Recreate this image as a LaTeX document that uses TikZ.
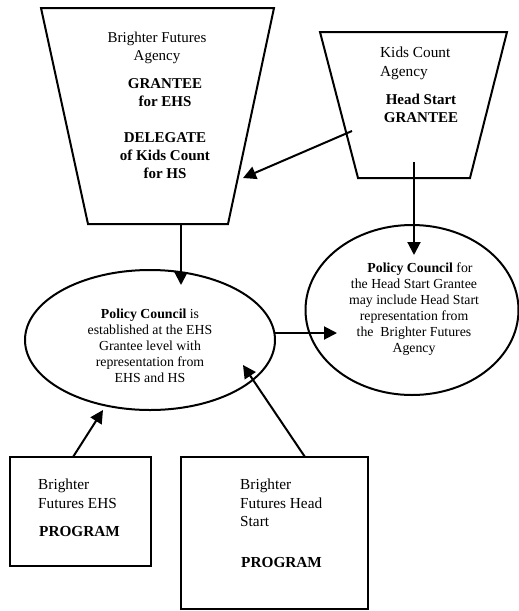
\documentclass[tikz,border=0pt]{standalone}
\usepackage{fontspec}
\setmainfont{Liberation Serif}
\usetikzlibrary{arrows.meta,shapes.geometric}
\begin{document}
\begin{tikzpicture}[x=1pt,y=-1pt,
  shape line/.style={line width=2pt,line join=miter},
  arr/.style={line width=2pt,-{Triangle[length=13pt,width=13pt]}},
  txt/.style={inner sep=0pt,align=center,font=\fontsize{15}{18}\selectfont},
  btxt/.style={inner sep=0pt,align=center,font=\bfseries\fontsize{15}{18}\selectfont},
  stxt/.style={inner sep=0pt,align=center,font=\fontsize{13.8}{16}\selectfont},
  ltxt/.style={inner sep=0pt,align=left,font=\fontsize{15.3}{18.5}\selectfont,anchor=north west},
  lbtxt/.style={inner sep=0pt,align=left,font=\bfseries\fontsize{15.3}{18.5}\selectfont,anchor=north west}]
\useasboundingbox (0,0) rectangle (519,611);
% left trapezoid
\draw[shape line] (41,8) -- (274,8) -- (228,224) -- (88,224) -- cycle;
\coordinate (bfa-bottom) at (181,224);
\coordinate (bfa-in) at (243,178);
\node[txt,anchor=north] (bfa-t1) at (157,32) {Brighter Futures\\Agency};
\node[btxt,anchor=north] (bfa-t2) at (165,78) {GRANTEE\\for EHS};
\node[btxt,anchor=north] (bfa-t3) at (165,132) {DELEGATE\\of Kids Count\\for HS};
% right trapezoid
\draw[shape line] (320,32) -- (507,32) -- (470,178) -- (358,178) -- cycle;
\coordinate (kc-out) at (352,131);
\coordinate (kc-down) at (414,162);
\node[ltxt] (kc-t1) at (380,47) {Kids Count\\Agency};
\node[btxt,anchor=north] (kc-t2) at (421,94) {Head Start\\GRANTEE};
% ellipses
\node[ellipse,draw,line width=2pt,minimum width=250pt,minimum height=140pt,inner sep=0pt] (pc1) at (150,340) {};
\node[ellipse,draw,line width=2pt,minimum width=213pt,minimum height=170pt,inner sep=0pt] (pc2) at (412,310) {};
\node[stxt,anchor=north] (pc1-t) at (150,309) {\textbf{Policy Council} is\\established at the EHS\\Grantee level with\\representation from\\EHS and HS};
\node[stxt,anchor=north] (pc2-t) at (414,263) {\hspace*{12pt}\textbf{Policy Council} for\\the Head Start Grantee\\may include Head Start\\representation from\\the\ \ Brighter Futures\\Agency};
\coordinate (pc1-top) at (181,285);
\coordinate (pc2-top) at (414,255);
\coordinate (pc1-right) at (275,333);
\coordinate (pc2-left) at (337,333);
\coordinate (pc1-bl) at (103,410);
\coordinate (pc1-br) at (243,365);
% boxes
\draw[shape line] (10,457) rectangle (151,566);
\node[ltxt] (ehs-t1) at (38,479) {Brighter\\Futures EHS};
\node[lbtxt] (ehs-t2) at (39,526) {PROGRAM};
\draw[shape line] (181,457) rectangle (368,609);
\node[ltxt] (hs-t1) at (240,479) {Brighter\\Futures Head\\Start};
\node[lbtxt] (hs-t2) at (241,557) {PROGRAM};
\coordinate (ehs-top) at (73,457);
\coordinate (hs-top) at (305,457);
% connectors
\draw[arr] (kc-out) -- (bfa-in);
\draw[arr] (bfa-bottom) -- (pc1-top);
\draw[arr] (kc-down) -- (pc2-top);
\draw[arr] (pc1-right) -- (pc2-left);
\draw[arr] (ehs-top) -- (pc1-bl);
\draw[arr] (hs-top) -- (pc1-br);
\end{tikzpicture}
\end{document}
